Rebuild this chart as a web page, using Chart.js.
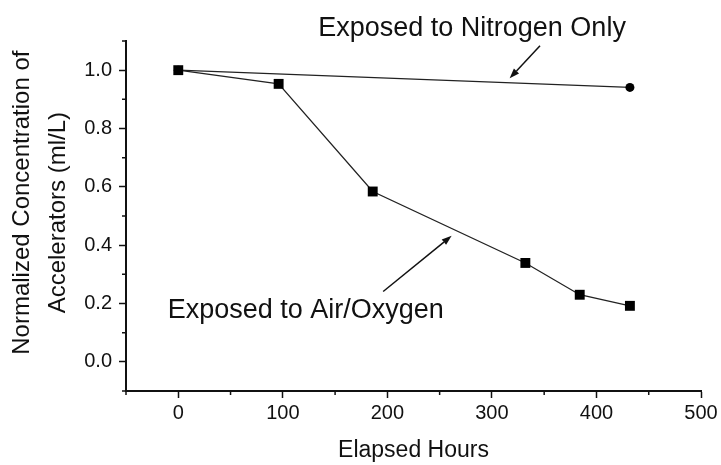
<!DOCTYPE html>
<html>
<head>
<meta charset="utf-8">
<script src="https://cdn.jsdelivr.net/npm/chart.js@4"></script>
<style>
  html, body { margin: 0; padding: 0; background: #fff; }
  canvas { display: block; }
</style>
</head>
<body>
<canvas id="chart" width="721" height="465"></canvas>
<script>
// data
const hours        = [0, 96, 186, 332, 384, 432];
const airOxygen    = [1.0, 0.953, 0.584, 0.339, 0.23, 0.192];
const nitrogenHours = [0, 432];
const nitrogenOnly  = [1.0, 0.941];

// axis ticks
const xTicks = [0, 100, 200, 300, 400, 500];
const xMinor = [-50, 50, 150, 250, 350, 450];
const yTicks = [0.0, 0.2, 0.4, 0.6, 0.8, 1.0];
const yMinor = [-0.1, 0.1, 0.3, 0.5, 0.7, 0.9, 1.1];

// callouts (text anchor + arrow in data units)
const notes = [
  { text: "Exposed to Nitrogen Only", x: 281, y: 1.118, from: [346, 1.084], to: [317, 0.972] },
  { text: "Exposed to Air/Oxygen",    x: 122, y: 0.151, from: [196, 0.241], to: [261.5, 0.432] },
];

const FONT = "'Liberation Sans', Arial, Helvetica, sans-serif";
const INK = "#111";

const toPoints = (xs, ys) => xs.map((x, i) => ({ x, y: ys[i] }));

/* minor ticks + callout texts and arrows, placed through the chart scales */
const extras = {
  id: "extras",
  afterDraw(chart) {
    const { ctx, scales: { x, y } } = chart;
    ctx.save();
    ctx.strokeStyle = INK;
    ctx.lineWidth = 1.5;
    ctx.beginPath();
    xMinor.forEach(v => {
      const px = x.getPixelForValue(v);
      ctx.moveTo(px, y.bottom);
      ctx.lineTo(px, y.bottom + 4);
    });
    yMinor.forEach(v => {
      const py = y.getPixelForValue(v);
      ctx.moveTo(x.left, py);
      ctx.lineTo(x.left - 4, py);
    });
    ctx.stroke();

    ctx.fillStyle = INK;
    ctx.font = `27px ${FONT}`;
    ctx.textAlign = "center";
    ctx.textBaseline = "alphabetic";
    notes.forEach(n => {
      ctx.fillText(n.text, x.getPixelForValue(n.x), y.getPixelForValue(n.y));

      const x0 = x.getPixelForValue(n.from[0]), y0 = y.getPixelForValue(n.from[1]);
      const x1 = x.getPixelForValue(n.to[0]),   y1 = y.getPixelForValue(n.to[1]);
      const a = Math.atan2(y1 - y0, x1 - x0);
      const len = 10, half = 3.5;
      const bx = x1 - len * Math.cos(a), by = y1 - len * Math.sin(a);
      ctx.lineWidth = 1.5;
      ctx.beginPath();
      ctx.moveTo(x0, y0);
      ctx.lineTo(bx, by);
      ctx.stroke();
      ctx.beginPath();
      ctx.moveTo(x1, y1);
      ctx.lineTo(bx + half * Math.sin(a), by - half * Math.cos(a));
      ctx.lineTo(bx - half * Math.sin(a), by + half * Math.cos(a));
      ctx.closePath();
      ctx.fill();
    });
    ctx.restore();
  },
};

new Chart(document.getElementById("chart"), {
  type: "scatter",
  data: {
    datasets: [
      {
        label: "Exposed to Air/Oxygen",
        data: toPoints(hours, airOxygen),
        showLine: true,
        borderColor: "#222",
        borderWidth: 1.3,
        pointStyle: "rect",
        pointRadius: 7,
        pointBackgroundColor: "#000",
        pointBorderColor: "#000",
        pointBorderWidth: 0,
      },
      {
        label: "Exposed to Nitrogen Only",
        data: toPoints(nitrogenHours, nitrogenOnly),
        showLine: true,
        borderColor: "#222",
        borderWidth: 1.3,
        pointStyle: "circle",
        pointRadius: 4.5,
        pointBackgroundColor: "#000",
        pointBorderColor: "#000",
        pointBorderWidth: 0,
      },
    ],
  },
  options: {
    responsive: false,
    animation: false,
    layout: { padding: { top: 41, right: 20, left: 0, bottom: 0 } },
    plugins: { legend: { display: false }, tooltip: { enabled: false } },
    scales: {
      x: {
        type: "linear",
        min: -50,
        max: 500,
        afterBuildTicks: s => { s.ticks = xTicks.map(v => ({ value: v })); },
        afterFit: s => { s.height = 74; },
        border: { display: true, color: INK, width: 2 },
        grid: { drawOnChartArea: false, drawTicks: true, tickLength: 7, tickColor: INK, tickWidth: 1.5 },
        ticks: { color: INK, padding: 3, font: { family: FONT, size: 20 } },
        title: {
          display: true,
          text: "Elapsed Hours",
          color: INK,
          font: { family: FONT, size: 23 },
          padding: { top: 0, bottom: 1 },
        },
      },
      y: {
        min: -0.1,
        max: 1.1,
        afterBuildTicks: s => { s.ticks = yTicks.map(v => ({ value: v })); },
        afterFit: s => { s.width = 126; },
        border: { display: true, color: INK, width: 2 },
        grid: { drawOnChartArea: false, drawTicks: true, tickLength: 7, tickColor: INK, tickWidth: 1.5 },
        ticks: { color: INK, padding: 7, font: { family: FONT, size: 20 }, callback: v => v.toFixed(1) },
        title: {
          display: true,
          // leading spaces nudge each line up the axis as in the original
          text: ["    Normalized Concentration of", " Accelerators (ml/L)"],
          color: INK,
          font: { family: FONT, size: 24, lineHeight: 1.5 },
          padding: { top: 4, bottom: 0 },
        },
      },
    },
  },
  plugins: [extras],
});
</script>
</body>
</html>
